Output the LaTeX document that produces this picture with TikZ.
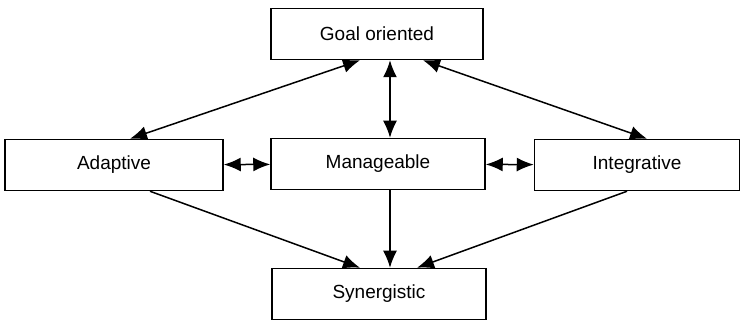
\documentclass[tikz,border=0pt]{standalone}
\usepackage{fontspec}
\setmainfont{Liberation Sans}
\usetikzlibrary{arrows.meta}

\begin{document}
\begin{tikzpicture}[x=1pt,y=-1pt,
    box/.style={shape=rectangle,draw=black,line width=1.5pt,inner sep=0pt,
      minimum height=51pt,font=\fontsize{19}{21}\selectfont},
    link/.style={line width=1.5pt,>={Latex[length=17pt,width=14pt]}}]
        \useasboundingbox (0,0) rectangle (745,323);
        \node[box,minimum width=212pt] (G) at (377,34){Goal oriented};
        \node[box,minimum width=218pt] (A) at (114,165){Adaptive};
        \node[box,minimum width=214pt] (M) at (378,164){Manageable};
        \node[box,minimum width=205pt] (I) at (637,165){Integrative};
        \node[box,minimum width=214pt] (S) at (379,294){Synergistic};
        \path [link,<->]([xshift=13pt]G.south) edge ([xshift=12pt]M.north);
        \path [link,<->]([xshift=-17pt]G.south) edge ([xshift=16pt]A.north);
        \path [link,<->]([xshift=46pt]G.south) edge ([xshift=10pt]I.north);
        \path [link,<->](A) edge (M);
        \path [link,<->](M) edge (I);
        \path [link,->]([xshift=12pt]M.south) edge ([xshift=11pt]S.north);
        \path [link,->]([xshift=36pt]A.south) edge ([xshift=-19pt]S.north);
        \path [link,->]([xshift=-10pt]I.south) edge ([xshift=38pt]S.north);
    \end{tikzpicture}
\end{document}
